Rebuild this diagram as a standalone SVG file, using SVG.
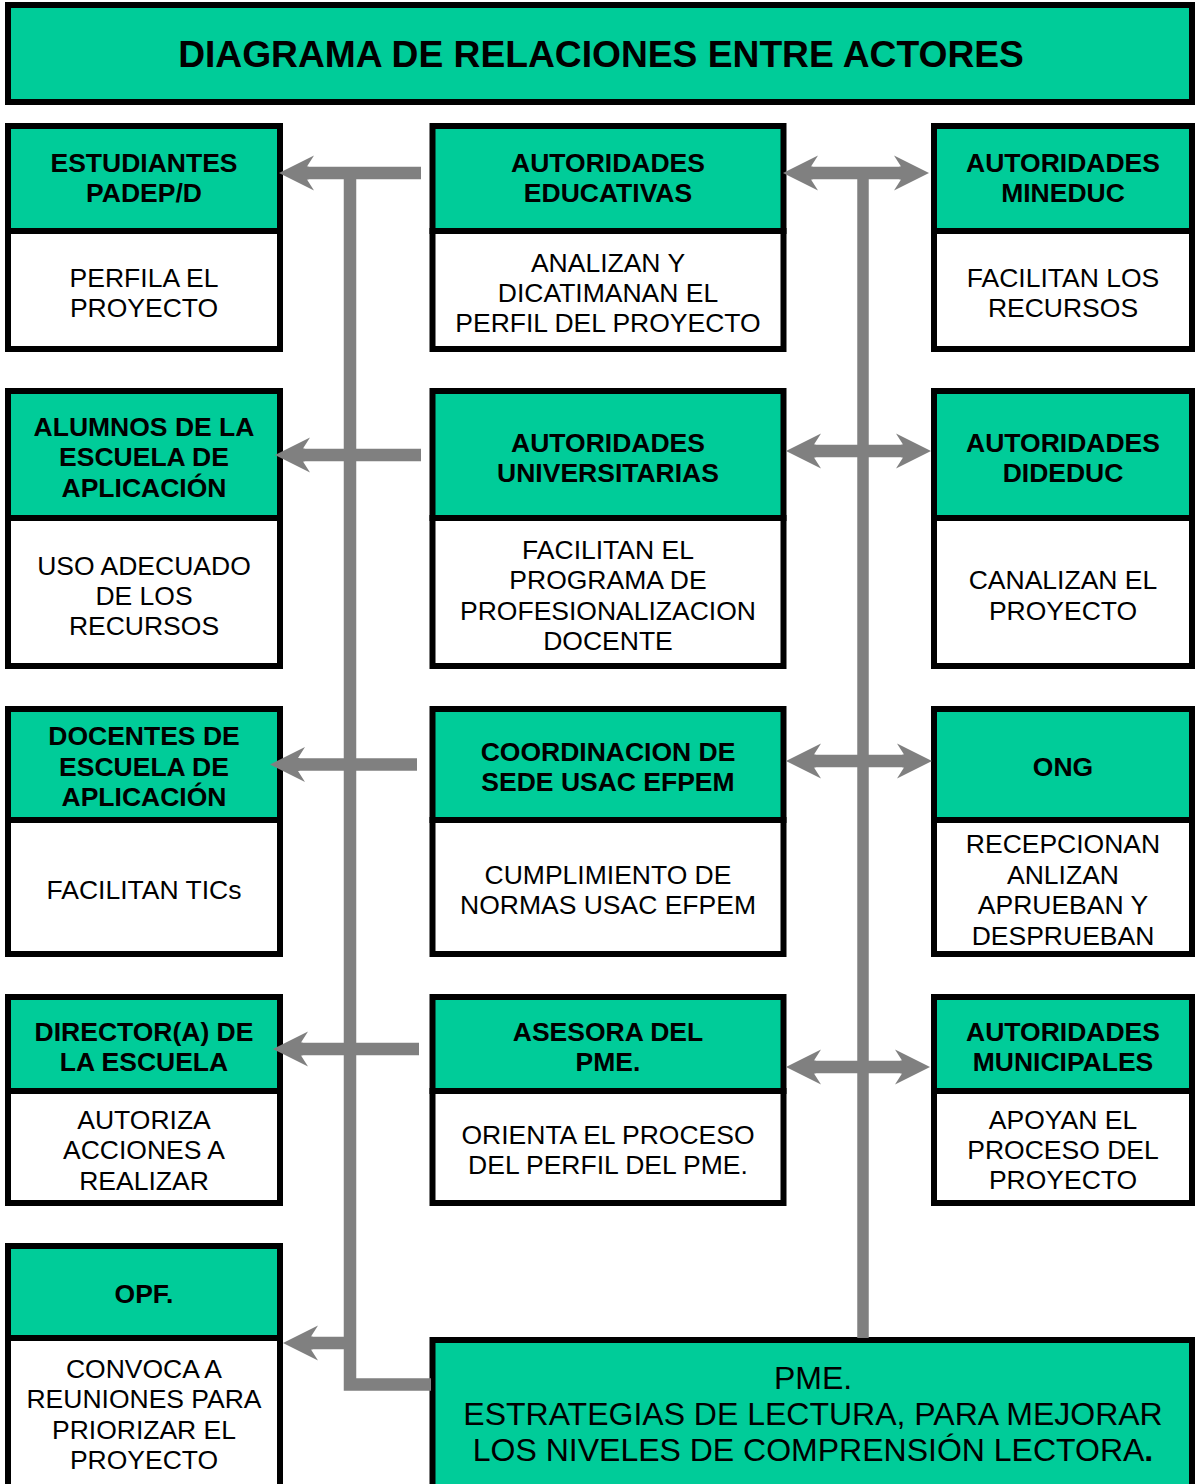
<svg xmlns="http://www.w3.org/2000/svg" width="1196" height="1484" viewBox="0 0 1196 1484">
<style>
.hd{fill:#00CC99;stroke:#000;stroke-width:6}
.bd{fill:#fff;stroke:#000;stroke-width:6}
.b{font-family:"Liberation Sans",Arial,sans-serif;font-weight:bold;font-size:26.5px;fill:#000;text-anchor:middle}
.n{font-family:"Liberation Sans",Arial,sans-serif;font-size:26.5px;fill:#000;text-anchor:middle}
.t{font-family:"Liberation Sans",Arial,sans-serif;font-weight:bold;font-size:37.2px;fill:#000;text-anchor:middle}
.p{font-family:"Liberation Sans",Arial,sans-serif;font-size:32px;fill:#000;text-anchor:middle}
.c{fill:none;stroke:#808080;stroke-width:12.5}
.a{marker-end:url(#ah)}
.d{marker-start:url(#ah2);marker-end:url(#ah2)}
</style>
<defs>
<marker id="ah" viewBox="-8 -18 37 36" markerWidth="37" markerHeight="36" refX="0" refY="0" orient="auto" markerUnits="userSpaceOnUse"><path d="M28,0 L-7,-17.5 L0,-6.6 L-1.5,-6.6 L-1.5,6.6 L0,6.6 L-7,17.5 Z" fill="#808080" stroke="none"/></marker>
<marker id="ah2" viewBox="-8 -18 37 36" markerWidth="37" markerHeight="36" refX="0" refY="0" orient="auto-start-reverse" markerUnits="userSpaceOnUse"><path d="M28,0 L-7,-17.5 L0,-6.6 L-1.5,-6.6 L-1.5,6.6 L0,6.6 L-7,17.5 Z" fill="#808080" stroke="none"/></marker>
</defs>
<rect width="1196" height="1484" fill="#fff"/>

<g id="title">
<rect class="hd" x="8" y="5" width="1184" height="97"/>
<text class="t" x="601" y="67">DIAGRAMA DE RELACIONES ENTRE ACTORES</text>
</g>

<g id="estudiantes">
<rect class="bd" x="8" y="231" width="272" height="118"/>
<rect class="hd" x="8" y="126" width="272" height="105"/>
<text class="b" x="144" y="172">ESTUDIANTES</text>
<text class="b" x="144" y="202">PADEP/D</text>
<text class="n" x="144" y="286.5">PERFILA EL</text>
<text class="n" x="144" y="316.5">PROYECTO</text>
</g>

<g id="autoridades-educativas">
<rect class="bd" x="432.5" y="231" width="351" height="118"/>
<rect class="hd" x="432.5" y="126" width="351" height="105"/>
<text class="b" x="608" y="172">AUTORIDADES</text>
<text class="b" x="608" y="202">EDUCATIVAS</text>
<text class="n" x="608" y="271.5">ANALIZAN Y</text>
<text class="n" x="608" y="301.5">DICATIMANAN EL</text>
<text class="n" x="608" y="331.5">PERFIL DEL PROYECTO</text>
</g>

<g id="autoridades-mineduc">
<rect class="bd" x="934" y="231" width="258" height="118"/>
<rect class="hd" x="934" y="126" width="258" height="105"/>
<text class="b" x="1063" y="172">AUTORIDADES</text>
<text class="b" x="1063" y="202">MINEDUC</text>
<text class="n" x="1063" y="286.5">FACILITAN LOS</text>
<text class="n" x="1063" y="316.5">RECURSOS</text>
</g>

<g id="alumnos">
<rect class="bd" x="8" y="518" width="272" height="148"/>
<rect class="hd" x="8" y="391" width="272" height="127"/>
<text class="b" x="144" y="435.5">ALUMNOS DE LA</text>
<text class="b" x="144" y="466">ESCUELA DE</text>
<text class="b" x="144" y="497">APLICACIÓN</text>
<text class="n" x="144" y="574.5">USO ADECUADO</text>
<text class="n" x="144" y="604.5">DE LOS</text>
<text class="n" x="144" y="635">RECURSOS</text>
</g>

<g id="autoridades-universitarias">
<rect class="bd" x="432.5" y="518" width="351" height="148"/>
<rect class="hd" x="432.5" y="391" width="351" height="127"/>
<text class="b" x="608" y="451.5">AUTORIDADES</text>
<text class="b" x="608" y="481.5">UNIVERSITARIAS</text>
<text class="n" x="608" y="559">FACILITAN EL</text>
<text class="n" x="608" y="589">PROGRAMA DE</text>
<text class="n" x="608" y="620">PROFESIONALIZACION</text>
<text class="n" x="608" y="650">DOCENTE</text>
</g>

<g id="autoridades-dideduc">
<rect class="bd" x="934" y="518" width="258" height="148"/>
<rect class="hd" x="934" y="391" width="258" height="127"/>
<text class="b" x="1063" y="451.5">AUTORIDADES</text>
<text class="b" x="1063" y="481.5">DIDEDUC</text>
<text class="n" x="1063" y="589">CANALIZAN EL</text>
<text class="n" x="1063" y="619.5">PROYECTO</text>
</g>

<g id="docentes">
<rect class="bd" x="8" y="820" width="272" height="134"/>
<rect class="hd" x="8" y="709" width="272" height="111"/>
<text class="b" x="144" y="745">DOCENTES DE</text>
<text class="b" x="144" y="775.5">ESCUELA DE</text>
<text class="b" x="144" y="806">APLICACIÓN</text>
<text class="n" x="144" y="898.5">FACILITAN TICs</text>
</g>

<g id="coordinacion">
<rect class="bd" x="432.5" y="820" width="351" height="134"/>
<rect class="hd" x="432.5" y="709" width="351" height="111"/>
<text class="b" x="608" y="760.5">COORDINACION DE</text>
<text class="b" x="608" y="790.5">SEDE USAC EFPEM</text>
<text class="n" x="608" y="884">CUMPLIMIENTO DE</text>
<text class="n" x="608" y="914">NORMAS USAC EFPEM</text>
</g>

<g id="ong">
<rect class="bd" x="934" y="820" width="258" height="134"/>
<rect class="hd" x="934" y="709" width="258" height="111"/>
<text class="b" x="1063" y="776">ONG</text>
<text class="n" x="1063" y="853">RECEPCIONAN</text>
<text class="n" x="1063" y="883.5">ANLIZAN</text>
<text class="n" x="1063" y="914">APRUEBAN Y</text>
<text class="n" x="1063" y="944.5">DESPRUEBAN</text>
</g>

<g id="director">
<rect class="bd" x="8" y="1091" width="272" height="112"/>
<rect class="hd" x="8" y="997" width="272" height="94"/>
<text class="b" x="144" y="1040.5">DIRECTOR(A) DE</text>
<text class="b" x="144" y="1070.5">LA ESCUELA</text>
<text class="n" x="144" y="1129">AUTORIZA</text>
<text class="n" x="144" y="1159">ACCIONES A</text>
<text class="n" x="144" y="1190">REALIZAR</text>
</g>

<g id="asesora">
<rect class="bd" x="432.5" y="1091" width="351" height="112"/>
<rect class="hd" x="432.5" y="997" width="351" height="94"/>
<text class="b" x="608" y="1040.5">ASESORA DEL</text>
<text class="b" x="608" y="1070.5">PME.</text>
<text class="n" x="608" y="1144">ORIENTA EL PROCESO</text>
<text class="n" x="608" y="1174">DEL PERFIL DEL PME.</text>
</g>

<g id="autoridades-municipales">
<rect class="bd" x="934" y="1091" width="258" height="112"/>
<rect class="hd" x="934" y="997" width="258" height="94"/>
<text class="b" x="1063" y="1040.5">AUTORIDADES</text>
<text class="b" x="1063" y="1070.5">MUNICIPALES</text>
<text class="n" x="1063" y="1128.5">APOYAN EL</text>
<text class="n" x="1063" y="1158.5">PROCESO DEL</text>
<text class="n" x="1063" y="1189">PROYECTO</text>
</g>

<g id="opf">
<rect class="bd" x="8" y="1338" width="272" height="152"/>
<rect class="hd" x="8" y="1246" width="272" height="92"/>
<text class="b" x="144" y="1303">OPF.</text>
<text class="n" x="144" y="1378">CONVOCA A</text>
<text class="n" x="144" y="1408">REUNIONES PARA</text>
<text class="n" x="144" y="1438.5">PRIORIZAR EL</text>
<text class="n" x="144" y="1469">PROYECTO</text>
</g>

<g id="pme">
<rect class="hd" x="432.5" y="1340" width="759.5" height="150"/>
<text class="p" x="813" y="1388.5">PME.</text>
<text class="p" x="813" y="1424.5">ESTRATEGIAS DE LECTURA, PARA MEJORAR</text>
<text class="p" x="813" y="1461">LOS NIVELES DE COMPRENSIÓN LECTORA<tspan font-weight="bold">.</tspan></text>
</g>

<g id="connectors">
<path class="c" d="M350,173 V1384.5 H431" stroke-linejoin="miter"/>
<path class="c" d="M863,173 V1338" style="stroke-width:11.5"/>
<path class="c a" d="M421,173 H307"/>
<path class="c a" d="M421,455 H303"/>
<path class="c a" d="M417,764.5 H298"/>
<path class="c a" d="M419,1049 H301"/>
<path class="c a" d="M344,1343 H311"/>
<path class="c d" d="M811,173 H901"/>
<path class="c d" d="M814,451 H903"/>
<path class="c d" d="M814,761 H904"/>
<path class="c d" d="M814,1067 H902"/>
</g>
</svg>
